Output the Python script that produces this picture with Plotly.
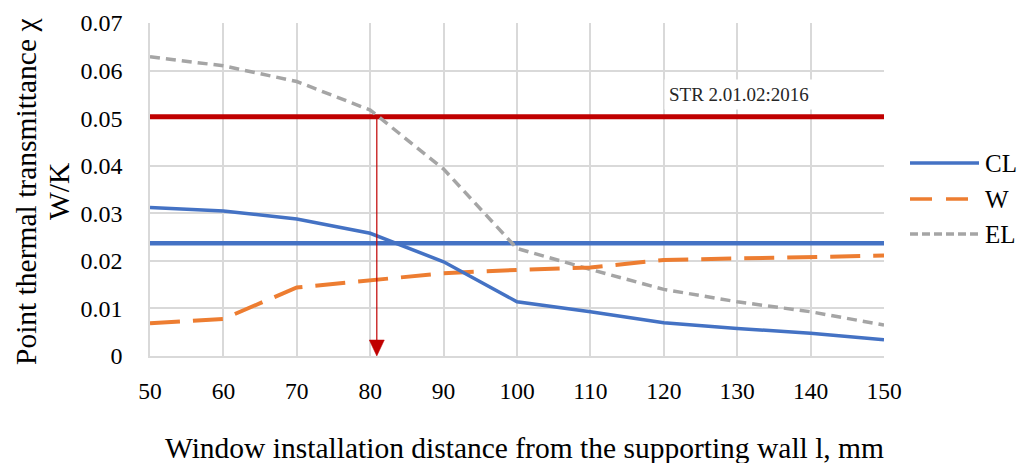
import plotly.graph_objects as go

# Window installation distance l, mm
distance = [50, 60, 70, 80, 90, 100, 110, 120, 130, 140, 150]

# Point thermal transmittance χ, W/K
cl = [0.0312, 0.0305, 0.0288, 0.0258, 0.0198, 0.0114, 0.0093, 0.0070, 0.0058, 0.0048, 0.0034]
w = [0.0069, 0.0078, 0.0144, 0.0160, 0.0174, 0.0181, 0.0186, 0.0202, 0.0205, 0.0210, 0.0211]
el = [0.0629, 0.0610, 0.0577, 0.0517, 0.0393, 0.0226, 0.0182, 0.0140, 0.0114, 0.0093, 0.0065]

# Reference levels
cl_level = 0.0237
str_limit = 0.0503
str_label = "STR 2.01.02:2016"
limit_distance = 80.9

x_ticks = [50, 60, 70, 80, 90, 100, 110, 120, 130, 140, 150]
y_ticks = [0, 0.01, 0.02, 0.03, 0.04, 0.05, 0.06, 0.07]
y_tick_text = ["0", "0.01", "0.02", "0.03", "0.04", "0.05", "0.06", "0.07"]
y_title_lines = ["Point thermal transmittance χ", "W/K"]
x_title = "Window installation distance from the supporting wall l, mm"

BLUE = "#4472C4"
ORANGE = "#ED7D31"
GREY = "#A5A5A5"
RED = "#C00000"
GRID = "#D9D9D9"
FONT = "Liberation Serif"

W_PX, H_PX = 1030, 463
M_L, M_R, M_T, M_B = 150, 146, 23, 107
X_RANGE = [50, 150]
Y_RANGE = [0, 0.07]
plot_w = W_PX - M_L - M_R
plot_h = H_PX - M_T - M_B
x_per_px = (X_RANGE[1] - X_RANGE[0]) / plot_w
y_per_px = (Y_RANGE[1] - Y_RANGE[0]) / plot_h


def paper_x(px):
    return (px - M_L) / plot_w


def paper_y(py):
    return (H_PX - M_B - py) / plot_h


fig = go.Figure()

# horizontal level lines
fig.add_trace(go.Scatter(x=X_RANGE, y=[str_limit, str_limit], mode="lines",
                         line=dict(color=RED, width=5), showlegend=False, hoverinfo="skip"))
fig.add_trace(go.Scatter(x=X_RANGE, y=[cl_level, cl_level], mode="lines",
                         line=dict(color=BLUE, width=4.5), showlegend=False, hoverinfo="skip"))

# data series
fig.add_trace(go.Scatter(x=distance, y=el, mode="lines", name="EL",
                         line=dict(color=GREY, width=3.5, dash="10px,6px"), showlegend=False))
fig.add_trace(go.Scatter(x=distance, y=w, mode="lines", name="W",
                         line=dict(color=ORANGE, width=4, dash="30px,13px"), showlegend=False))
fig.add_trace(go.Scatter(x=distance, y=cl, mode="lines", name="CL",
                         line=dict(color=BLUE, width=3.5), showlegend=False))

# arrow from the limit down to the axis
head_h = 16 * y_per_px
head_half_w = 7.5 * x_per_px
fig.add_trace(go.Scatter(x=[limit_distance, limit_distance], y=[str_limit, head_h],
                         mode="lines", line=dict(color=RED, width=1.2),
                         showlegend=False, hoverinfo="skip"))
fig.add_trace(go.Scatter(x=[limit_distance - head_half_w, limit_distance + head_half_w, limit_distance,
                            limit_distance - head_half_w],
                         y=[head_h, head_h, 0, head_h], mode="lines", fill="toself",
                         fillcolor=RED, line=dict(color=RED, width=0.5),
                         showlegend=False, hoverinfo="skip"))

# standard label
fig.add_annotation(x=130.2, y=0.0549, text=str_label, showarrow=False,
                   font=dict(family=FONT, size=19, color="#262626"),
                   bgcolor="white", borderpad=4)

# legend drawn at the right of the plot
legend_items = [("CL", BLUE, None, 3.5), ("W", ORANGE, "22px,14px", 3.5), ("EL", GREY, "8px,4px", 3.5)]
legend_rows_px = [163, 199, 234]
for (label, color, dash, width), row in zip(legend_items, legend_rows_px):
    yp = paper_y(row)
    fig.add_shape(type="line", xref="paper", yref="paper", x0=paper_x(910), x1=paper_x(979),
                  y0=yp, y1=yp, line=dict(color=color, width=width, dash=dash))
    fig.add_annotation(xref="paper", yref="paper", x=paper_x(983), y=yp,
                       xanchor="left", yanchor="middle", text=label, showarrow=False,
                       font=dict(family=FONT, size=25, color="black"))

# rotated y-axis title, two lines
for line_text, cx in zip(y_title_lines, [26, 59]):
    fig.add_annotation(xref="paper", yref="paper", x=paper_x(cx), y=paper_y(192),
                       xanchor="center", yanchor="middle", textangle=-90,
                       text=line_text, showarrow=False,
                       font=dict(family=FONT, size=29.5, color="black"))

# x-axis title
fig.add_annotation(xref="paper", yref="paper", x=paper_x(524), y=paper_y(448),
                   xanchor="center", yanchor="middle", text=x_title, showarrow=False,
                   font=dict(family=FONT, size=29.5, color="black"))

fig.update_layout(
    width=W_PX, height=H_PX,
    margin=dict(l=M_L, r=M_R, t=M_T, b=M_B, autoexpand=False),
    paper_bgcolor="white", plot_bgcolor="white",
    font=dict(family=FONT, color="black"),
    showlegend=False,
)
fig.update_xaxes(
    range=X_RANGE, tickvals=x_ticks, showgrid=True, gridcolor=GRID, gridwidth=1.5,
    showline=True, linecolor=GRID, linewidth=1.5, mirror=False, zeroline=False,
    automargin=False,
    ticks="", ticklabelstandoff=13, tickfont=dict(family=FONT, size=23.5, color="black"),
)
fig.update_yaxes(
    range=Y_RANGE, tickvals=y_ticks, ticktext=y_tick_text, showgrid=True, gridcolor=GRID,
    gridwidth=1.5, showline=True, linecolor=GRID, linewidth=1.5, zeroline=False,
    automargin=False,
    ticks="", ticklabelstandoff=21, tickfont=dict(family=FONT, size=24, color="black"),
)

fig.write_html("out.html")
